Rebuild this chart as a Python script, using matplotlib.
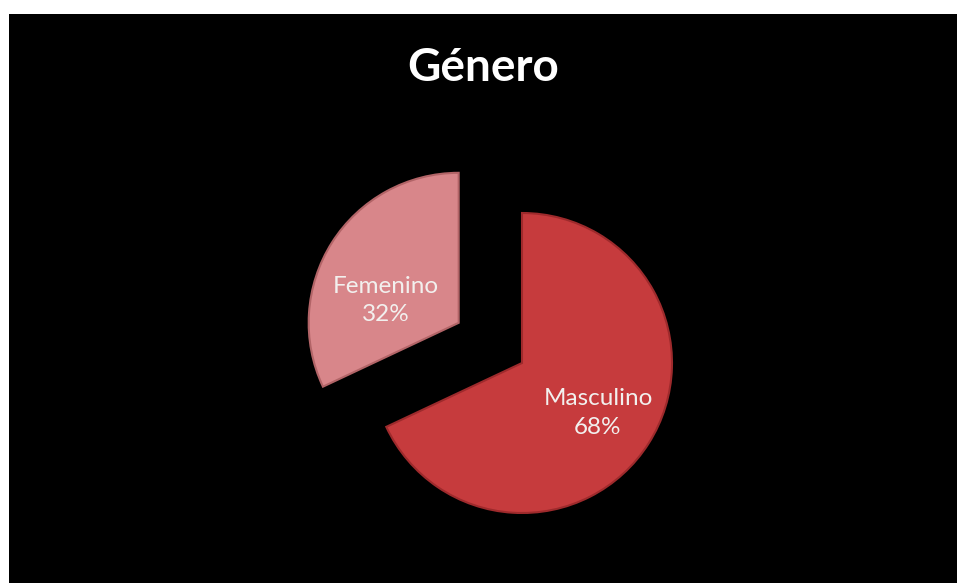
import matplotlib.pyplot as plt
from matplotlib.patches import Rectangle

# Datos de género
categorias = ['Masculino', 'Femenino']
porcentajes = [68, 32]
colores = ['#C63B3D', '#D8868A']
bordes = ['#9E2A2C', '#B26467']
separacion = [0.0, 0.5]

W, H = 957, 583
radio = 150
fig = plt.figure(figsize=(W / 100, H / 100), dpi=100, facecolor='white')

# ejes en unidades de pixel, y hacia arriba
ax = fig.add_axes([0, 0, 1, 1])
ax.set_aspect('equal')

# fondo negro del grafico
ax.add_patch(Rectangle((9, 0), W - 9, H - 14, facecolor='black', edgecolor='none', zorder=0))

texto = '#F2F0EE'
wedges, textos, pct = ax.pie(
    porcentajes, colors=colores, explode=[s * radio for s in separacion],
    startangle=90, counterclock=False, center=(522, 220), radius=radio,
    autopct='%1.0f%%', pctdistance=0.6,
    wedgeprops=dict(linewidth=0), textprops=dict(color=texto),
    frame=True,
)
ax.set_xlim(0, W)
ax.set_ylim(0, H)
ax.axis('off')

# borde suave de cada porcion
for w, b in zip(wedges, bordes):
    w.set_edgecolor(b)
    w.set_linewidth(1.5)
    w.set_zorder(2)

# etiqueta con categoria y porcentaje
ajuste = [(0, -2), (3, -26)]
for t, nombre, (dx, dy) in zip(pct, categorias, ajuste):
    x, y = t.get_position()
    t.set_position((x + dx, y + dy))
    t.set_text(f'{nombre}\n{t.get_text()}')
    t.set_fontfamily('Lato')
    t.set_fontsize(17.5)
    t.set_linespacing(1.45)
    t.set_zorder(3)

ax.text(483, H - 68, 'Género', color='white', fontsize=33, fontweight='bold',
        family='Lato', ha='center', va='center')

fig.savefig('out.png', dpi=100, facecolor='white')
